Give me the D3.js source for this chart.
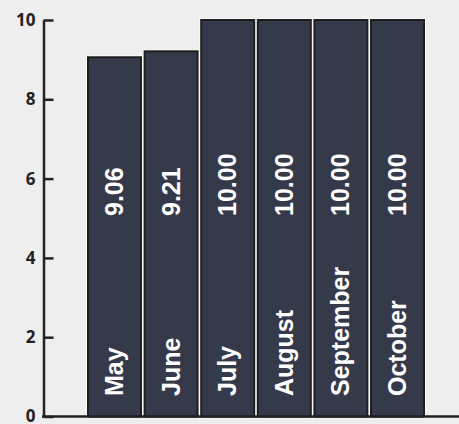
<!DOCTYPE html>
<html><head><meta charset="utf-8">
<script src="https://cdn.jsdelivr.net/npm/d3@7"></script>
<style>
html,body{margin:0;padding:0;background:#eeeeee;}
svg{display:block;}
</style></head>
<body>
<svg id="c" width="459" height="424"></svg>
<script>
const categories = ["May","June","July","August","September","October"];
const values = [9.06, 9.21, 10.00, 10.00, 10.00, 10.00];
const yTicks = [0, 2, 4, 6, 8, 10];

const svg = d3.select("#c");
svg.append("rect").attr("width",459).attr("height",424).attr("fill","#eeeeee");

const y = d3.scaleLinear().domain([0,10]).range([416.5,20]);
const x = d3.scaleBand().domain(categories).range([88,424]).paddingInner(0.064).paddingOuter(0);

// bars: white halo then dark-outlined fill
const g = svg.append("g");
g.selectAll("rect.halo").data(values).join("rect").attr("class","halo")
  .attr("x",(d,i)=>x(categories[i])-2).attr("y",d=>y(d)-2)
  .attr("width",x.bandwidth()+4).attr("height",d=>y(0)-y(d)+2)
  .attr("fill","#fafafa");
g.selectAll("rect.bar").data(values).join("rect").attr("class","bar")
  .attr("x",(d,i)=>x(categories[i])).attr("y",d=>y(d))
  .attr("width",x.bandwidth()).attr("height",d=>y(0)-y(d))
  .attr("fill","#353a4b").attr("stroke","#1e1e1e").attr("stroke-width",2);

const font = "'Liberation Sans', Arial, Helvetica, sans-serif";
// value labels
g.selectAll("text.val").data(values).join("text").attr("class","val")
  .attr("transform",(d,i)=>`translate(${x(categories[i])+x.bandwidth()/2+8.5},216) rotate(-90)`)
  .attr("text-anchor","start")
  .attr("font-family",font)
  .attr("font-weight","bold").attr("font-size",25).attr("fill","#ffffff")
  .text(d=>d.toFixed(2));

// category labels
g.selectAll("text.cat").data(categories).join("text").attr("class","cat")
  .attr("transform",d=>`translate(${x(d)+x.bandwidth()/2+8.5},396) rotate(-90)`)
  .attr("text-anchor","start")
  .attr("font-family",font)
  .attr("font-weight","bold").attr("font-size",25).attr("fill","#ffffff")
  .text(d=>d);

// y axis
const ya = svg.append("g").attr("transform","translate(43.5,0)")
  .call(d3.axisLeft(y).tickValues(yTicks).tickSizeInner(-10).tickSizeOuter(0).tickPadding(8).tickFormat(d3.format("d")));
ya.select(".domain").attr("stroke","#222").attr("stroke-width",2.5);
ya.selectAll(".tick line").attr("stroke","#222").attr("stroke-width",2.5);
ya.selectAll(".tick text").attr("fill","#222").attr("font-family","'Open Sans', sans-serif")
  .attr("font-weight","bold").attr("font-size",17);

// x axis baseline
svg.append("line").attr("x1",42).attr("x2",459).attr("y1",y(0)).attr("y2",y(0))
  .attr("stroke","#222").attr("stroke-width",2.5);
</script>
</body></html>
